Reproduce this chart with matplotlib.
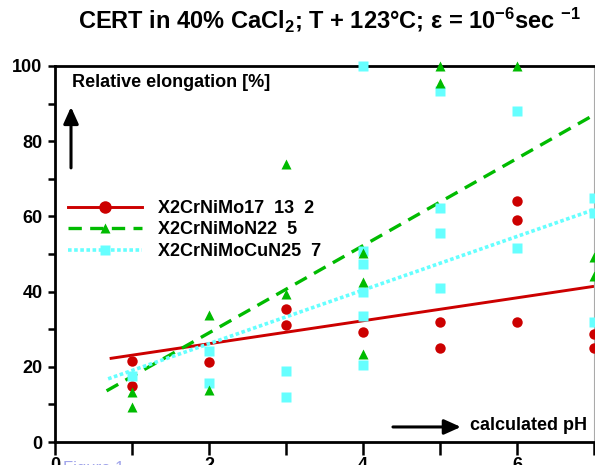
import matplotlib
matplotlib.use("Agg")
import matplotlib.pyplot as plt
from matplotlib.lines import Line2D
from matplotlib.ticker import MultipleLocator, FuncFormatter

# measured points (calculated pH, relative elongation %)
ph_red = [1, 1, 2, 3, 3, 4, 5, 5, 6, 6, 6, 7, 7]
el_red = [21.5, 14.8, 21.4, 35.5, 31.1, 29.2, 31.8, 25.0, 64.2, 59.1, 31.8, 28.6, 25.0]

ph_green = [1, 1, 2, 2, 3, 3, 4, 4, 4, 5, 5, 6, 7, 7]
el_green = [13.3, 9.3, 33.7, 13.9, 74.0, 39.3, 50.3, 42.6, 23.3, 100.0, 95.5, 100.0, 49.2, 44.1]

ph_cyan = [1, 2, 2, 3, 3, 4, 4, 4, 4, 4, 4, 5, 5, 5, 5, 6, 6, 7, 7, 7]
el_cyan = [17.5, 24.1, 15.7, 19.0, 12.1, 100.0, 50.8, 47.3, 39.8, 33.4, 20.6,
           93.4, 62.3, 55.6, 41.0, 88.0, 51.6, 65.0, 61.0, 31.9]

# trend lines: (start pH, end pH), (start %, end %)
trend_red_x = [0.71, 7.0]
trend_red_y = [22.2, 41.4]
trend_green_x = [0.67, 7.0]
trend_green_y = [13.6, 87.0]
trend_cyan_x = [0.69, 7.0]
trend_cyan_y = [16.8, 61.8]

labels = ["X2CrNiMo17  13  2", "X2CrNiMoN22  5", "X2CrNiMoCuN25  7"]

RED = "#cc0000"
GREEN = "#00bb00"
CYAN = "#66ffff"

plt.rcParams["font.family"] = ["Liberation Sans", "DejaVu Sans"]
plt.rcParams["font.weight"] = "bold"
plt.rcParams["mathtext.fontset"] = "custom"
plt.rcParams["mathtext.rm"] = "Liberation Sans:bold"
plt.rcParams["mathtext.it"] = "Liberation Sans:bold"
plt.rcParams["mathtext.bf"] = "Liberation Sans:bold"

fig = plt.figure(figsize=(5.95, 4.65), dpi=100)
ax = fig.add_axes([55 / 595, 23 / 465, 539 / 595, 376 / 465])
ax.set_xlim(0, 7)
ax.set_ylim(0, 100)

# trend lines
ax.plot(trend_red_x, trend_red_y, color=RED, lw=2.1, solid_capstyle="butt")
ax.plot(trend_green_x, trend_green_y, color=GREEN, lw=2.4, dashes=(4, 2.5))
ax.plot(trend_cyan_x, trend_cyan_y, color=CYAN, lw=2.6, dashes=(1, 0.7))

# points
ax.plot(ph_red, el_red, "o", color=RED, ms=7.5, mec="none", clip_on=False, zorder=5)
ax.plot(ph_cyan, el_cyan, "s", color=CYAN, ms=7.5, mec="none", clip_on=False, zorder=5)
ax.plot(ph_green, el_green, "^", color=GREEN, ms=7.5, mec="none", clip_on=False, zorder=6)

# axes styling
ax.xaxis.set_major_locator(MultipleLocator(1))
ax.xaxis.set_major_formatter(FuncFormatter(lambda v, p: f"{v:.0f}" if round(v) % 2 == 0 else ""))
ax.yaxis.set_major_locator(MultipleLocator(10))
ax.yaxis.set_major_formatter(FuncFormatter(lambda v, p: f"{v:.0f}" if round(v) % 20 == 0 else ""))
ax.tick_params(axis="x", direction="out", length=9, width=1.8, labelsize=13, pad=2)
ax.tick_params(axis="y", direction="out", length=5, width=1.8, labelsize=13, pad=4)
for side in ["left", "bottom", "top"]:
    ax.spines[side].set_linewidth(2.0)
    ax.spines[side].set_color("black")
ax.spines["right"].set_linewidth(0.8)
ax.spines["right"].set_color("#aaaaaa")

# axis captions with arrows
ax.text(0.0315, 0.957, "Relative elongation [%]", transform=ax.transAxes,
        ha="left", va="center", fontsize=13, fontweight="bold")
ax.annotate("", xy=(0.0297, 0.891), xytext=(0.0297, 0.729), xycoords="axes fraction",
            arrowprops=dict(arrowstyle="-|>,head_length=1.0,head_width=0.45",
                            lw=2.2, color="black", shrinkA=0, shrinkB=0))
ax.text(0.770, 0.045, "calculated pH", transform=ax.transAxes,
        ha="left", va="center", fontsize=13, fontweight="bold")
ax.annotate("", xy=(0.753, 0.040), xytext=(0.627, 0.040), xycoords="axes fraction",
            arrowprops=dict(arrowstyle="-|>,head_length=1.0,head_width=0.45",
                            lw=2.2, color="black", shrinkA=0, shrinkB=0))

# legend
handles = [
    Line2D([], [], color=RED, lw=2.1, marker="o", ms=9, mec="none"),
    Line2D([], [], color=GREEN, lw=2.4, dashes=(4, 2.5), marker="^", ms=7, mec="none"),
    Line2D([], [], color=CYAN, lw=2.6, dashes=(1, 0.7), marker="s", ms=6.5, mec="none"),
]
ax.legend(handles, labels, loc="center left", bbox_to_anchor=(0.024, 0.564),
          frameon=False, fontsize=13, handlelength=4.1, handletextpad=0.9,
          labelspacing=0.25, borderpad=0, borderaxespad=0)

fig.text(0.553, 0.957,
         "CERT in 40% CaCl$_2$; T + 123°C; ε = 10$^{-6}$sec $^{-1}$",
         ha="center", va="center", fontsize=17, fontweight="bold")

fig.text(63 / 595, 4 / 465, "Figure 1", color="#a0a4ea", fontsize=12,
         fontweight="normal", ha="left", va="top")

fig.savefig("out.png", dpi=100)
